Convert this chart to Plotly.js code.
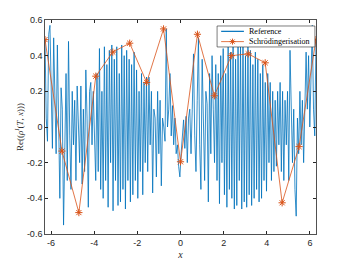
<!DOCTYPE html>
<html>
<head>
<meta charset="utf-8">
<script src="https://cdn.plot.ly/plotly-3.0.1.min.js"></script>
<style>html,body{margin:0;padding:0;background:#fff}#chart{width:350px;height:263px}</style>
</head>
<body>
<div id="chart"></div>
<script>
// Reference solution values, evenly spaced over [-2π, 2π]
const refValues = [
  0.49, 0.05, -0.08, 0.52, 0.57, 0.1, -0.12, 0.5, 0.2, -0.15, 0.46, -0.1, -0.4, 0.22, 0.1, -0.55, -0.2, 0.3, -0.3, 0.48, -0.05, -0.35, 0.2, -0.1, 0.15, -0.3, 0.23, 0.0,
  -0.2, 0.23, -0.32, 0.1, -0.25, 0.32, 0.05, -0.45, 0.2, 0.25, -0.1, 0.2, 0.0, -0.3,
  0.3, -0.25, 0.44, -0.35, 0.2, -0.4, 0.45, -0.3, 0.35, -0.45, 0.43, -0.2, 0.46, -0.47, 0.38, -0.3, 0.45, -0.44, 0.3, -0.42, 0.46, -0.35, 0.4, -0.46, 0.43, -0.3, 0.38, -0.42, 0.35, -0.38, 0.42, -0.3, 0.32, -0.4, 0.2, -0.25, 0.3, -0.38, 0.25, -0.2, 0.28,
  -0.25, 0.28, -0.1, 0.2, -0.37, 0.1, 0.05, -0.28, 0.2, -0.15, 0.15, -0.33, 0.05, 0.0, -0.08, 0.55, 0.0, 0.1, 0.3,
  -0.05, 0.12, -0.1, 0.05, -0.15, -0.1, -0.22, -0.28, -0.15, -0.05, 0.04, -0.12, 0.06, -0.2, 0.05, 0.1, -0.15,
  0.1, 0.41, -0.05, -0.25, 0.15, 0.5, -0.1, -0.35, 0.38, -0.1, -0.3, 0.2, 0.13, -0.42, 0.3, -0.15, 0.4, 0.1, -0.2,
  0.35, -0.3, 0.3, -0.43, 0.4, -0.2, 0.44, -0.38, 0.3, -0.45, 0.46, -0.35, 0.42, -0.4, 0.45, -0.46, 0.38, -0.44, 0.47, -0.3, 0.45, -0.46, 0.5, -0.42, 0.4, -0.45, 0.46, -0.38, 0.43, -0.44, 0.35, -0.4, 0.42, -0.35, 0.38, -0.42, 0.3, -0.4, 0.35, -0.3, 0.25, -0.36, 0.3, -0.2, 0.25, -0.3, 0.2, -0.25, 0.15, -0.22, 0.2,
  -0.1, 0.25, -0.25, 0.2, -0.3, 0.15, -0.1, 0.2, -0.3, 0.43, 0.0, -0.2, 0.1, -0.35, -0.5, 0.05, -0.15, 0.2, -0.1, 0.15, -0.2, 0.2, 0.42, 0.1, 0.4, 0.0, 0.3, 0.57, 0.1, -0.05, 0.49
];
// Schrödingerisation values at x = -2π + kπ/4
const schValues = [0.49, -0.135, -0.48, 0.285, 0.42, 0.47, 0.25, 0.55, -0.195, 0.52, 0.175, 0.40, 0.41, 0.36, -0.425, -0.11, 0.49];
const seriesNames = ['Reference', 'Schrödingerisation'];
const xTickVals = [-6, -4, -2, 0, 2, 4, 6];
const xTickText = ['-6', '-4', '-2', '0', '2', '4', '6'];
const yTickVals = [-0.6, -0.4, -0.2, 0, 0.2, 0.4, 0.6];
const yTickText = ['-0.6', '-0.4', '-0.2', '0', '0.2', '0.4', '0.6'];

const L = 2 * Math.PI;
const refX = refValues.map((_, i) => -L + 2 * L * i / (refValues.length - 1));
const schX = schValues.map((_, i) => -L + 2 * L * i / (schValues.length - 1));

const serif = 'Liberation Serif, DejaVu Serif, serif';
const sans = 'Liberation Sans, Arial, sans-serif';
const blue = '#0072BD', orange = '#D95319', ink = '#262626';

// compact legend geometry (paper coordinates of the plot area)
const lg = {x0: 0.635, x1: 0.996, y0: 0.874, y1: 0.972, rows: [0.947, 0.899], s0: 0.650, s1: 0.734, tx: 0.745};

const traces = [
  {x: refX, y: refValues, type: 'scatter', mode: 'lines', name: seriesNames[0],
   line: {color: blue, width: 0.8}},
  {x: schX, y: schValues, type: 'scatter', mode: 'lines+markers', name: seriesNames[1],
   line: {color: orange, width: 0.8},
   marker: {symbol: 'asterisk-open', size: 6, color: orange, line: {color: orange, width: 1}}}
];

const axisCommon = {
  showgrid: false, zeroline: false, showline: true, mirror: 'ticks',
  linecolor: ink, linewidth: 0.8, ticks: 'inside', ticklen: 3, tickcolor: ink,
  tickfont: {family: sans, size: 9, color: ink}
};

const shapes = [
  {type: 'rect', xref: 'paper', yref: 'paper', x0: lg.x0, x1: lg.x1, y0: lg.y0, y1: lg.y1,
   fillcolor: '#fff', line: {color: ink, width: 0.6}, layer: 'above'},
  {type: 'line', xref: 'paper', yref: 'paper', x0: lg.s0, x1: lg.s1, y0: lg.rows[0], y1: lg.rows[0],
   line: {color: blue, width: 1.2}, layer: 'above'},
  {type: 'line', xref: 'paper', yref: 'paper', x0: lg.s0, x1: lg.s1, y0: lg.rows[1], y1: lg.rows[1],
   line: {color: orange, width: 0.8}, layer: 'above'}
];
// legend asterisk sample, drawn as pixel-sized spokes
const mx = (lg.s0 + lg.s1) / 2, my = lg.rows[1], r = 3;
[[-r, 0, r, 0], [0, -r, 0, r], [-2.1, -2.1, 2.1, 2.1], [-2.1, 2.1, 2.1, -2.1]].forEach(s => {
  shapes.push({type: 'line', xref: 'paper', yref: 'paper', xsizemode: 'pixel', ysizemode: 'pixel',
    xanchor: mx, yanchor: my, x0: s[0], x1: s[2], y0: s[1], y1: s[3],
    line: {color: orange, width: 1}, layer: 'above'});
});

const annotations = seriesNames.map((n, i) => ({
  xref: 'paper', yref: 'paper', x: lg.tx, y: lg.rows[i], xanchor: 'left', yanchor: 'middle',
  text: n, showarrow: false, font: {family: serif, size: 8, color: '#000'}
}));

const layout = {
  width: 350, height: 263,
  margin: {l: 45, r: 34, t: 20, b: 29},
  paper_bgcolor: '#fff', plot_bgcolor: '#fff',
  showlegend: false,
  shapes: shapes, annotations: annotations,
  xaxis: Object.assign({}, axisCommon, {range: [-L, L], tickvals: xTickVals, ticktext: xTickText,
    title: {text: '<i>x</i>', font: {family: serif, size: 10, color: ink}, standoff: 4}}),
  yaxis: Object.assign({}, axisCommon, {range: [-0.6, 0.6], tickvals: yTickVals, ticktext: yTickText,
    title: {text: 'Re((<i>ρ</i><sup><i>I</i></sup>(<i>T</i>, <i>x</i>)))', font: {family: serif, size: 9, color: ink}, standoff: 1}})
};

Plotly.newPlot('chart', traces, layout, {staticPlot: true, displayModeBar: false});
</script>
</body>
</html>
